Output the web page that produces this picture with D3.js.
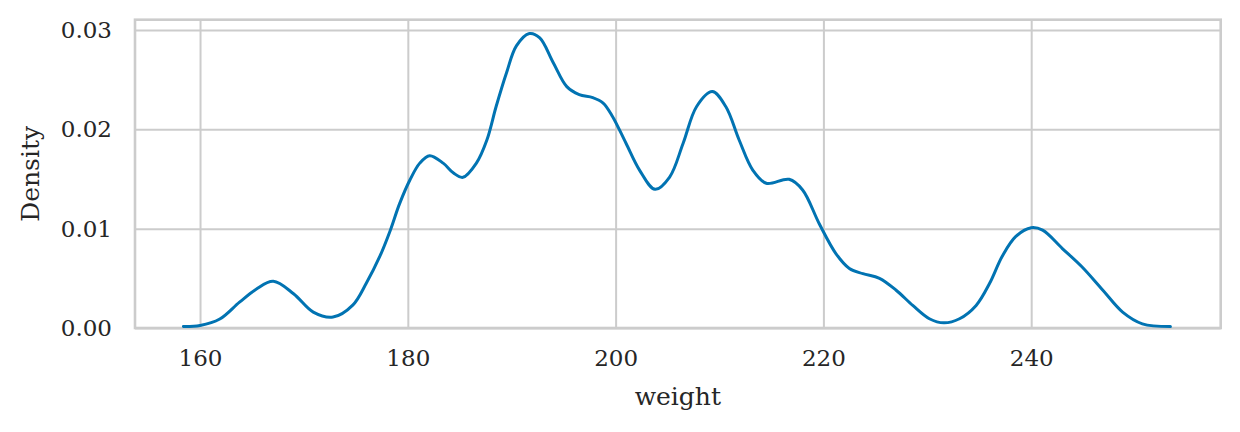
<!DOCTYPE html>
<html><head><meta charset="utf-8">
<script src="https://cdn.jsdelivr.net/npm/d3@7/dist/d3.min.js"></script>
<style>body{margin:0;background:#fff}svg{display:block}text{font-family:"DejaVu Serif",serif;fill:#262626}</style>
</head><body><svg id="c" width="1240" height="432"></svg>
<script>
const weight = [158.4,160,161.9,163.8,165.4,167.05,169,170.9,172.8,174.7,176,177.3,178.3,179.2,180.2,181.15,182.1,183.4,184.4,185.3,186.6,187.6,188.5,189.5,190.45,191.7,192.7,194,195.3,196.5,197.8,198.8,199.7,201,202.3,203.8,205.2,206.5,207.8,209.3,210.6,211.9,213.2,214.5,216.7,218,219.6,221.2,222.5,223.8,225.4,227,228.6,230.2,231.6,233.1,234.7,236,237.2,238.5,240,241.1,243,244.9,246.9,248.8,250.7,253.4];
const density = [0.00015,0.00025,0.0009,0.0026,0.0039,0.0047,0.00345,0.0016,0.0011,0.0023,0.0045,0.0072,0.0098,0.0125,0.0149,0.0166,0.01735,0.0166,0.0156,0.01517,0.0166,0.0189,0.0223,0.0257,0.0284,0.02965,0.0292,0.0267,0.0243,0.0235,0.0232,0.02265,0.0213,0.0186,0.0159,0.01396,0.0152,0.0186,0.0223,0.0238,0.0223,0.0189,0.0159,0.01457,0.01497,0.0139,0.0105,0.0075,0.0060,0.00547,0.0050,0.0038,0.00227,0.00093,0.00052,0.00093,0.00227,0.0045,0.0072,0.0092,0.0101,0.00985,0.0080,0.00614,0.0038,0.0016,0.00042,0.00015];
const xTicks = [160,180,200,220,240];
const yTicks = [0,0.01,0.02,0.03];
const yTickLabels = ["0.00","0.01","0.02","0.03"];

const L=135, R=1220.7, T=19.7, B=328;
const x = d3.scaleLinear().domain([153.74,258.24]).range([L,R]);
const y = d3.scaleLinear().domain([0,0.03104]).range([B,T]);
const svg = d3.select("#c");

const gx = svg.append("g").attr("transform",`translate(0,${B})`)
  .call(d3.axisBottom(x).tickValues(xTicks).tickSize(-(B-T)).tickPadding(22).tickFormat(d3.format("d")));
const gy = svg.append("g").attr("transform",`translate(${L},0)`)
  .call(d3.axisLeft(y).tickValues(yTicks).tickSize(-(R-L)).tickPadding(23).tickFormat((d,i)=>yTickLabels[i]));
[gx,gy].forEach(g=>{
  g.select(".domain").remove();
  g.selectAll(".tick line").attr("stroke","#cccccc").attr("stroke-width",2);
  g.selectAll(".tick text").style("font-family","DejaVu Serif").style("font-size","23px").attr("fill","#262626");
});
gx.selectAll(".tick text").attr("dy","0.71em");

svg.append("rect").attr("x",L).attr("y",T).attr("width",R-L).attr("height",B-T)
  .attr("fill","none").attr("stroke","#cccccc").attr("stroke-width",2.6);

const line = d3.line().x((d,i)=>x(weight[i])).y(d=>y(d)).curve(d3.curveCatmullRom.alpha(0.5));
svg.append("path").datum(density).attr("d",line).attr("fill","none")
  .attr("stroke","#0173b2").attr("stroke-width",3).attr("stroke-linejoin","round").attr("stroke-linecap","round");

svg.append("text").attr("x",(L+R)/2).attr("y",405).attr("text-anchor","middle").style("font-size","25px").text("weight");
svg.append("text").attr("transform",`translate(39,${(T+B)/2}) rotate(-90)`).attr("text-anchor","middle").style("font-size","25px").text("Density");
</script></body></html>
